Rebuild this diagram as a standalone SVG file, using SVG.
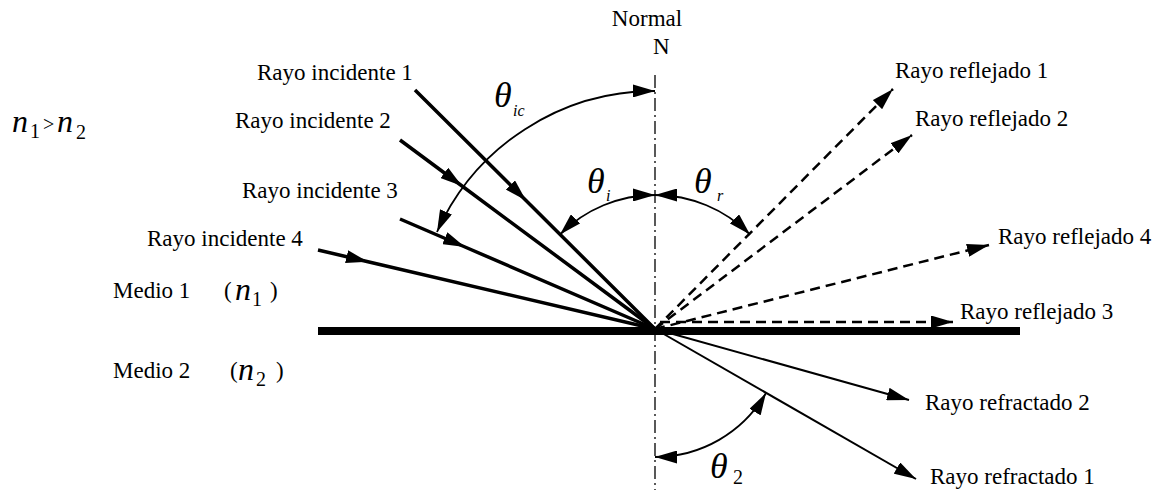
<svg xmlns="http://www.w3.org/2000/svg" width="1166" height="490" viewBox="0 0 1166 490" font-family="'Liberation Serif', Tinos, 'Times New Roman', Times, 'DejaVu Serif', serif">
<style>
text{font-family:'Liberation Serif',Tinos,'Times New Roman',Times,'DejaVu Serif',serif;fill:#000}
.lb{font-size:23px}
.th{font-size:36px;font-style:italic}
.sb{font-size:16px;font-style:italic}
.nn{font-size:32px;font-style:italic}
.dg{font-size:20px}
.inc{stroke:#000;stroke-width:3.5;fill:none}
.ref{stroke:#000;stroke-width:2.5;fill:none;stroke-dasharray:10,6}
.tra{stroke:#000;stroke-width:2;fill:none}
.arc{stroke:#000;stroke-width:1.8;fill:none}
</style>
<defs>
<marker id="ah" viewBox="0 0 22 13" refX="22" refY="6.5" markerWidth="22" markerHeight="13" markerUnits="userSpaceOnUse" orient="auto-start-reverse"><path d="M0,0 L22,6.5 L0,13 z" fill="#000"/></marker>
</defs>
<rect width="1166" height="490" fill="#fff"/>

<g id="normal">
<line x1="655" y1="75" x2="655" y2="490" stroke="#000" stroke-width="1.3" stroke-dasharray="13,4,2,4"/>
<text class="lb" x="647" y="26" text-anchor="middle">Normal</text>
<text class="lb" x="653" y="54">N</text>
</g>

<g id="interface">
<line x1="318" y1="331" x2="1020" y2="331" stroke="#000" stroke-width="8"/>
</g>

<g id="connectors">
<path class="inc" d="M415,90 L526,200.5 L655,329" marker-mid="url(#ah)"/>
<path class="inc" d="M400,140 L462,186 L655,329" marker-mid="url(#ah)"/>
<path class="inc" d="M400,219 L465,247 L655,329" marker-mid="url(#ah)"/>
<path class="inc" d="M318,250 L368,261.7 L655,329" marker-mid="url(#ah)"/>
<path class="ref" d="M655,329 L893,89" marker-end="url(#ah)"/>
<path class="ref" d="M655,329 L912,135" marker-end="url(#ah)"/>
<path class="ref" d="M655,329 L989,245" marker-end="url(#ah)"/>
<path class="ref" d="M660,322 L953,322" marker-end="url(#ah)"/>
<path class="tra" d="M655,329 L909,400" marker-end="url(#ah)"/>
<path class="tra" d="M655,329 L916,479" marker-end="url(#ah)"/>
<path class="arc" d="M437,232 A238,238 0 0 1 655,91" marker-start="url(#ah)" marker-end="url(#ah)"/>
<path class="arc" d="M560,234.5 A134,134 0 0 1 655,195" marker-start="url(#ah)" marker-end="url(#ah)"/>
<path class="arc" d="M655,195 A134,134 0 0 1 750,234.5" marker-start="url(#ah)" marker-end="url(#ah)"/>
<path class="arc" d="M655,457 A128,128 0 0 0 766,393" marker-start="url(#ah)" marker-end="url(#ah)"/>
</g>

<g id="labels">
<text x="12" y="132"><tspan class="nn">n</tspan><tspan class="dg" x="30" y="138">1</tspan><tspan class="dg" x="43" y="131">&gt;</tspan><tspan class="nn" x="57" y="132">n</tspan><tspan class="dg" x="76" y="139">2</tspan></text>
<text class="lb" x="257" y="80">Rayo incidente 1</text>
<text class="lb" x="235" y="128">Rayo incidente 2</text>
<text class="lb" x="242" y="198">Rayo incidente 3</text>
<text class="lb" x="147" y="246">Rayo incidente 4</text>
<text class="lb" x="895" y="78">Rayo reflejado 1</text>
<text class="lb" x="915" y="126">Rayo reflejado 2</text>
<text class="lb" x="998" y="244">Rayo reflejado 4</text>
<text class="lb" x="960" y="319">Rayo reflejado 3</text>
<text class="lb" x="925" y="410">Rayo refractado 2</text>
<text class="lb" x="930" y="484">Rayo refractado 1</text>
<text class="lb" x="113" y="298">Medio 1</text>
<text x="224" y="298"><tspan class="lb">(</tspan><tspan class="nn" x="235" y="300">n</tspan><tspan class="dg" x="252" y="306">1</tspan><tspan class="lb" x="270" y="298">)</tspan></text>
<text class="lb" x="113" y="378">Medio 2</text>
<text x="230" y="378"><tspan class="lb">(</tspan><tspan class="nn" x="238" y="380">n</tspan><tspan class="dg" x="256" y="386">2</tspan><tspan class="lb" x="276" y="378">)</tspan></text>
<text class="th" x="494" y="107">θ</text><text class="sb" x="513" y="116">ic</text>
<text class="th" x="587" y="193">θ</text><text class="sb" x="606" y="201">i</text>
<text class="th" x="694" y="193">θ</text><text class="sb" x="717" y="201">r</text>
<text class="th" x="710" y="478">θ</text><text class="dg" x="733" y="484">2</text>
</g>
</svg>
